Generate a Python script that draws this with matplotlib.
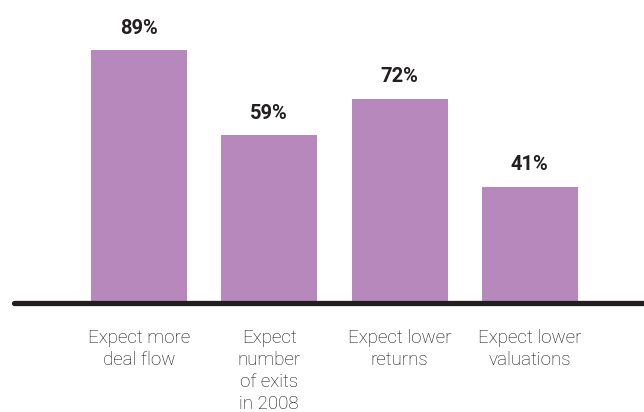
import matplotlib
matplotlib.use("Agg")
import matplotlib.pyplot as plt

categories = [
    "Expect more\ndeal flow",
    "Expect\nnumber\nof exits\nin 2008",
    "Expect lower\nreturns",
    "Expect lower\nvaluations",
]
values = [89, 59, 72, 41]

bar_color = "#b788bc"
line_color = "#231f20"

fig = plt.figure(figsize=(6.44, 4.12), dpi=100)
ax = fig.add_axes([12 / 644, 109 / 412, 632 / 644, 303 / 412])

x = list(range(len(values)))
ax.bar(x, values, width=0.737, color=bar_color, zorder=2)

for xi, v in zip(x, values):
    ax.annotate(f"{v}%", (xi, v), xytext=(0, 9), textcoords="offset points",
                ha="center", va="bottom", fontsize=14.5, fontweight="bold",
                family="Roboto", color="#231f20")

for xi, label in zip(x, categories):
    ax.annotate(label, (xi, 0), xytext=(0, -19), textcoords="offset points",
                ha="center", va="top", fontsize=13.5, fontweight="light",
                family="Roboto", color="#111111", linespacing=1.28)

ax.plot([-0.96, 3.876], [0, 0], color=line_color, linewidth=3.8,
        solid_capstyle="round", clip_on=False, zorder=3)

ax.set_xlim(-0.975, 3.876)
ax.set_ylim(0, 106.7)
ax.axis("off")

fig.savefig("out.png", dpi=100)
